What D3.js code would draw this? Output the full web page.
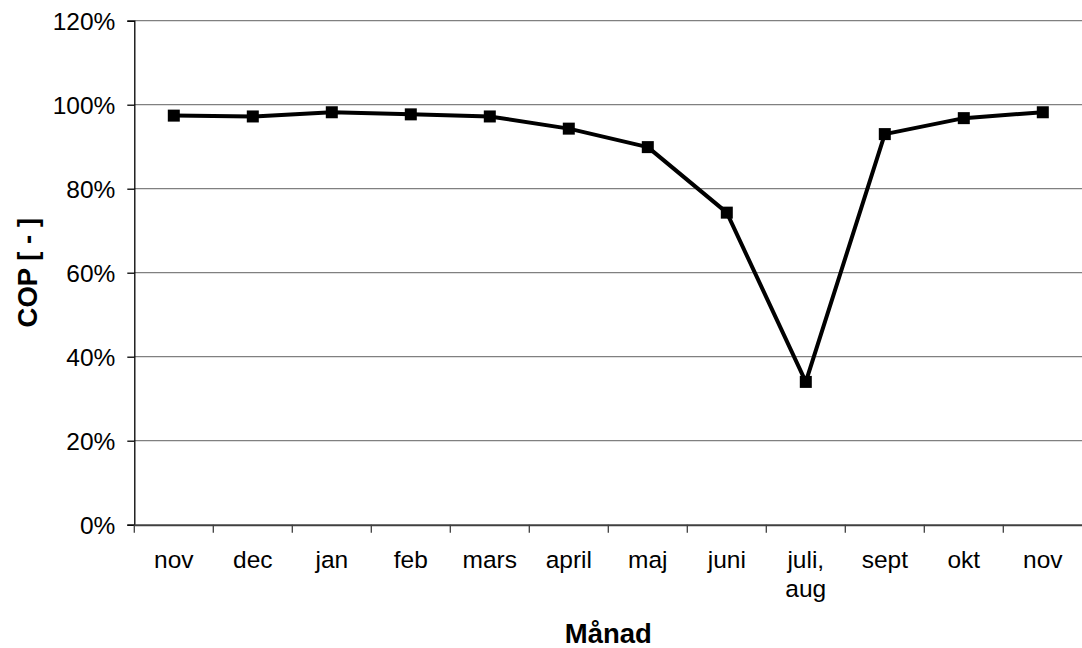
<!DOCTYPE html>
<html><head><meta charset="utf-8">
<script src="https://cdn.jsdelivr.net/npm/d3@7"></script>
<style>body{margin:0;background:#fff}svg{display:block;font-family:"Liberation Sans",Arial,sans-serif}</style>
</head><body><svg id="c" width="1082" height="648"></svg>
<script>
const categories = ["nov","dec","jan","feb","mars","april","maj","juni","juli, aug","sept","okt","nov "];
const copValues = [0.974,0.972,0.982,0.977,0.972,0.943,0.899,0.743,0.340,0.930,0.968,0.982];
const yTicks = [0,0.2,0.4,0.6,0.8,1.0,1.2];

const svg = d3.select("#c");
const L=134.3, R=1082.3, T=20.7, B=524.7;
const x = d3.scaleBand().domain(categories).range([L,R]);
const y = d3.scaleLinear().domain([0,1.2]).range([B,T]);

// gridlines
svg.append("g").selectAll("line").data(yTicks.filter(d=>d>0)).join("line")
  .attr("x1",L).attr("x2",R).attr("y1",d=>y(d)).attr("y2",d=>y(d))
  .attr("stroke","#808080").attr("stroke-width",1.3);

// y axis
const ya = svg.append("g").attr("transform",`translate(${L},0)`)
  .call(d3.axisLeft(y).tickValues(yTicks).tickFormat(d3.format(".0%")).tickSize(7).tickPadding(12));
ya.select(".domain").attr("stroke","#000").attr("stroke-width",1.3);
ya.selectAll(".tick line").attr("stroke","#000").attr("stroke-width",1.3);
ya.selectAll("text").attr("font-size",24.5).attr("fill","#000").attr("font-family","Liberation Sans, Arial, sans-serif").attr("dy","0.36em");

// x axis
const xa = svg.append("g").attr("transform",`translate(0,${B})`)
  .call(d3.axisBottom(x).tickSize(0).tickFormat(""));
xa.select(".domain").attr("stroke","#404040").attr("stroke-width",2);
// tick marks at band boundaries
svg.append("g").selectAll("line").data(categories).join("line")
  .attr("x1",d=>x(d)).attr("x2",d=>x(d)).attr("y1",B).attr("y2",B+8)
  .attr("stroke","#404040").attr("stroke-width",1.3);
// category labels
const lab = svg.append("g").selectAll("text").data(categories).join("text")
  .attr("x",d=>x(d)+x.bandwidth()/2).attr("y",568)
  .attr("text-anchor","middle").attr("font-size",24.5).attr("fill","#000");
lab.each(function(d){
  const parts = d.trim().split(" ");
  const t = d3.select(this);
  parts.forEach((p,i)=>t.append("tspan").attr("x",x(d)+x.bandwidth()/2).attr("dy",i?29:0).text(p));
});

// line
const line = d3.line().x((d,i)=>x(categories[i])+x.bandwidth()/2).y(d=>y(d));
svg.append("path").datum(copValues).attr("d",line).attr("fill","none")
  .attr("stroke","#000").attr("stroke-width",4).attr("stroke-linejoin","round");
svg.append("g").selectAll("rect").data(copValues).join("rect")
  .attr("x",(d,i)=>x(categories[i])+x.bandwidth()/2-6).attr("y",d=>y(d)-6)
  .attr("width",12).attr("height",12).attr("fill","#000");

// titles
svg.append("text").attr("x",(L+R)/2).attr("y",643).attr("text-anchor","middle")
  .attr("font-size",27.5).attr("font-weight","bold").text("Månad");
svg.append("text").attr("transform",`translate(37,${(T+B)/2}) rotate(-90)`).attr("text-anchor","middle")
  .attr("font-size",27.5).attr("font-weight","bold").text("COP [ - ]");
</script></body></html>
